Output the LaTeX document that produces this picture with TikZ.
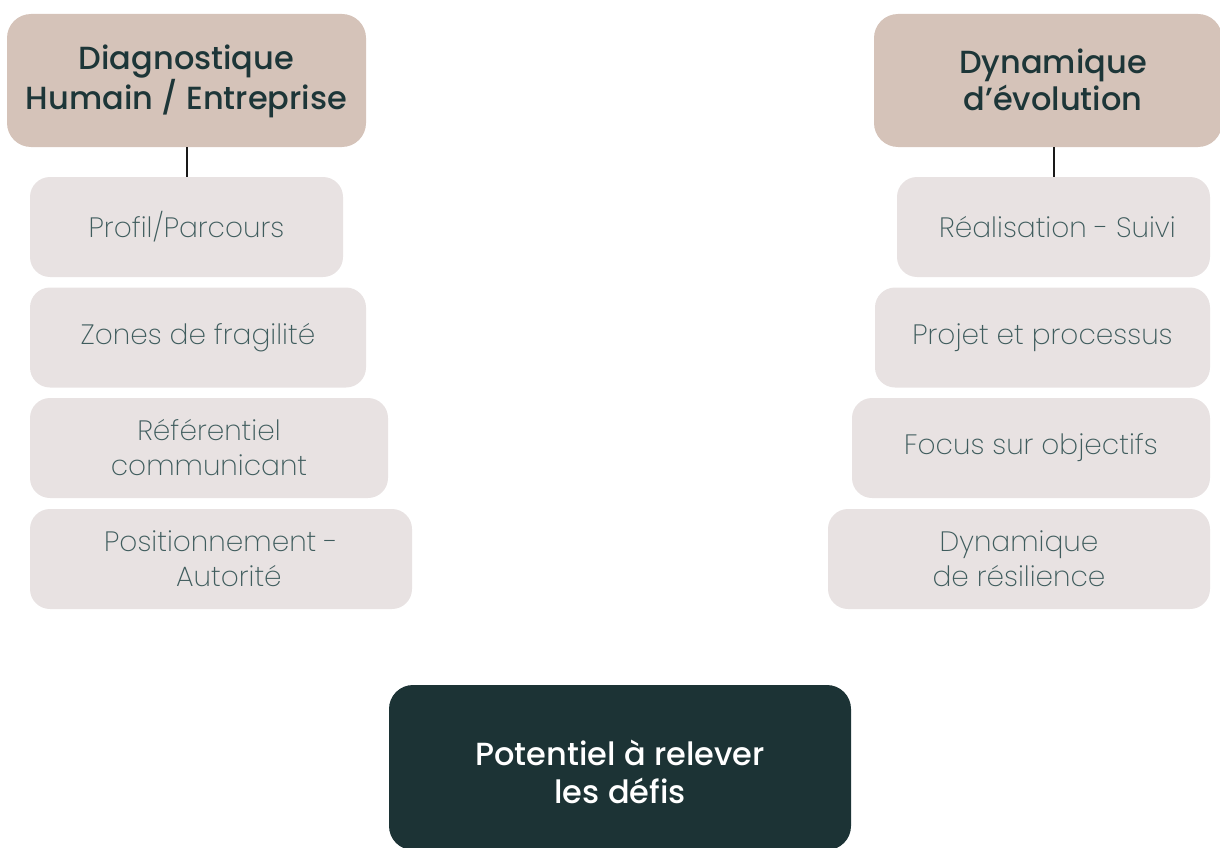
\documentclass[tikz,border=0pt]{standalone}
\usepackage{fontspec}
\setmainfont{Poppins}
\newfontfamily\headfont{Poppins Medium}
\newfontfamily\itemfont{Poppins ExtraLight}
\definecolor{headbg}{HTML}{D5C3B9}
\definecolor{headtxt}{HTML}{1D3638}
\definecolor{itembg}{HTML}{E8E2E2}
\definecolor{itemtxt}{HTML}{3F5C5D}
\definecolor{darkbg}{HTML}{1C3335}
\begin{document}
\begin{tikzpicture}[x=1pt,y=-1pt,
  headbox/.style={fill=headbg, rounded corners=24pt, inner sep=0pt, minimum height=133pt},
  headtext/.style={text=headtxt, font=\headfont\fontsize{32}{37}\selectfont, align=center},
  itembox/.style={fill=itembg, rounded corners=20pt, inner sep=0pt, text=itemtxt, font=\itemfont\fontsize{28}{35}\selectfont, align=center, minimum height=100pt},
  darkbox/.style={fill=darkbg, rounded corners=24pt, inner sep=0pt, minimum width=462pt, minimum height=165pt},
  darktext/.style={text=white, font=\headfont\fontsize{32}{38}\selectfont, align=center},
  conn/.style={draw=black!90, line width=2pt}]
\useasboundingbox (0,0) rectangle (1220,848);
% left column
\node[headbox, minimum width=359pt] (h1) at (186.5,80.5) {};
\node[headtext, font=\headfont\fontsize{32}{36}\selectfont] (h1t) at (186.5,81.5) {Diagnostique\\Humain / Entreprise};
\node[itembox, minimum width=313pt] (l1) at (186.5,227) {Profil/Parcours};
\node[itembox, minimum width=336pt] (l2) at (198,337.5) {Zones de fragilité};
\node[itembox, minimum width=358pt] (l3) at (209,448) {Référentiel\\communicant};
\node[itembox, minimum width=382pt] (l4) at (221,559) {Positionnement -\\\ \ Autorité};
% right column
\node[headbox, minimum width=348pt] (h2) at (1048,80.5) {};
\node[headtext] (h2t) at (1053,80) {Dynamique\\d’évolution};
\node[itembox, minimum width=313pt] (r1) at (1053.5,227) {\ Réalisation - Suivi};
\node[itembox, minimum width=335pt] (r2) at (1042.5,337.5) {Projet et processus};
\node[itembox, minimum width=358pt] (r3) at (1031,448) {Focus sur objectifs};
\node[itembox, minimum width=382pt] (r4) at (1019,559) {Dynamique\\de résilience};
% bottom
\node[darkbox] (b) at (620,767.5) {};
\node[darktext] (bt) at (620,772) {Potentiel à relever\\les défis};
% connectors
\draw[conn] (h1.south) -- (l1.north);
\draw[conn] (r1.north |- h2.south) -- (r1.north);
\end{tikzpicture}
\end{document}
